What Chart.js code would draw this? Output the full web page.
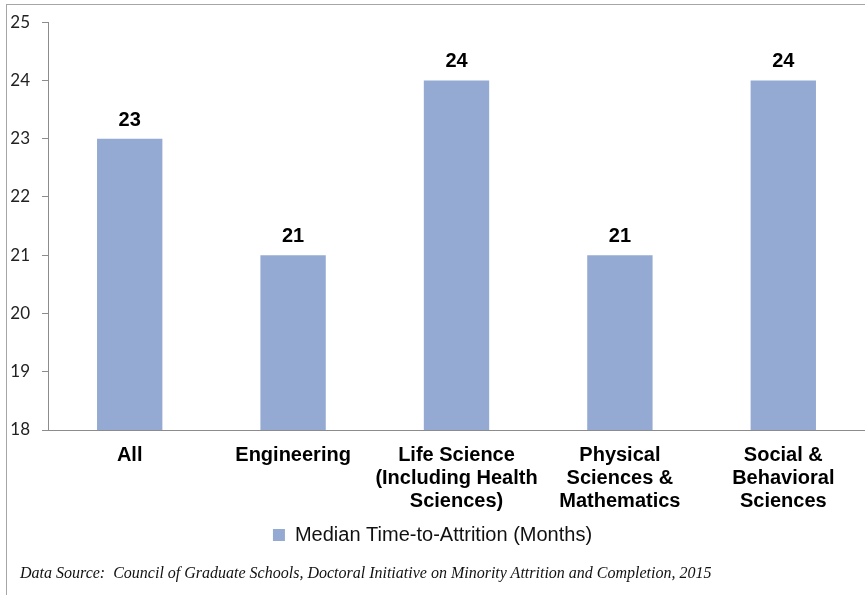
<!DOCTYPE html>
<html>
<head>
<meta charset="utf-8">
<script src="https://cdn.jsdelivr.net/npm/chart.js@4.4.1/dist/chart.umd.min.js"></script>
<style>
    html, body { margin: 0; padding: 0; background: #fff; }
    #wrap { position: relative; width: 865px; height: 595px; overflow: hidden; }
    #frame { position: absolute; left: 6px; top: 4px; right: -2px; bottom: -2px; border-top: 1px solid #a6a6a6; border-left: 1px solid #a6a6a6; }
    #myChart { position: absolute; left: 0; top: 0; }
    #source { position: absolute; left: 20px; top: 564px; font-family: "Liberation Serif", "Times New Roman", serif; font-style: italic; font-size: 16px; color: #111; white-space: pre; }
</style>
</head>
<body>
<div id="wrap">
    <div id="frame"></div>
    <canvas id="myChart" width="865" height="595"></canvas>
    <div id="source">Data Source:  Council of Graduate Schools, Doctoral Initiative on Minority Attrition and Completion, 2015</div>
</div>
<script>
var categories = [
    ["All"],
    ["Engineering"],
    ["Life Science", "(Including Health", "Sciences)"],
    ["Physical", "Sciences &", "Mathematics"],
    ["Social &", "Behavioral", "Sciences"]
];
var medianMonths = [23, 21, 24, 21, 24];
var seriesName = "Median Time-to-Attrition (Months)";
var yTicks = [18, 19, 20, 21, 22, 23, 24, 25];

// labels on top of each bar
var barLabels = {
    id: 'barLabels',
    afterDatasetsDraw: function (chart) {
        var ctx = chart.ctx;
        var meta = chart.getDatasetMeta(0);
        ctx.save();
        ctx.font = 'bold 20px "Liberation Sans", Arial, sans-serif';
        ctx.fillStyle = '#000';
        ctx.textAlign = 'center';
        ctx.textBaseline = 'alphabetic';
        meta.data.forEach(function (bar, i) {
            ctx.fillText(String(chart.data.datasets[0].data[i]), bar.x, bar.y - 13);
        });
        ctx.restore();
    }
};

document.addEventListener("DOMContentLoaded", function () {
    drawChart();
});

function drawChart() {
    var ctx = document.getElementById('myChart').getContext('2d');
    window.barChart = new Chart(ctx, {
        type: 'bar',
        data: {
            labels: categories,
            datasets: [{
                label: seriesName,
                data: medianMonths,
                backgroundColor: '#95aad3',
                borderWidth: 0,
                barPercentage: 0.4,
                categoryPercentage: 1
            }]
        },
        options: {
            responsive: false,
            animation: false,
            layout: {
                padding: { top: 17, left: 0, right: 0, bottom: 40 }
            },
            plugins: {
                legend: {
                    position: 'bottom',
                    labels: {
                        boxWidth: 12,
                        boxHeight: 12,
                        padding: 8,
                        color: '#111',
                        font: { family: '"Liberation Sans", Arial, sans-serif', size: 20 }
                    }
                },
                tooltip: { enabled: false }
            },
            scales: {
                x: {
                    grid: { display: false, drawTicks: false },
                    border: { display: true, color: '#8c8c8c', width: 1 },
                    ticks: {
                        color: '#000',
                        padding: 14,
                        maxRotation: 0,
                        autoSkip: false,
                        font: { family: '"Liberation Sans", Arial, sans-serif', size: 20, weight: 'bold', lineHeight: '23px' }
                    },
                    afterFit: function (scale) {
                        scale.height = 87;
                    }
                },
                y: {
                    min: yTicks[0],
                    max: yTicks[yTicks.length - 1],
                    grid: { drawOnChartArea: false, drawTicks: true, tickLength: 6, color: '#8c8c8c' },
                    border: { display: true, color: '#8c8c8c', width: 1 },
                    ticks: {
                        stepSize: 1,
                        padding: 12,
                        color: '#222',
                        font: { family: 'Lato, sans-serif', size: 17 }
                    },
                    afterFit: function (scale) {
                        scale.width = 48;
                    }
                }
            }
        },
        plugins: [barLabels]
    });
}
</script>
</body>
</html>
